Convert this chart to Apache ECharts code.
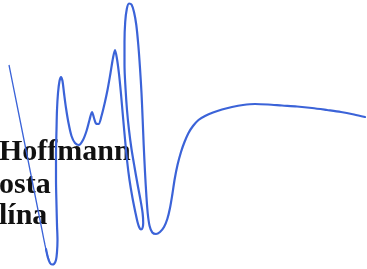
<!DOCTYPE html>
<html><head><meta charset="utf-8">
<script src="https://cdn.jsdelivr.net/npm/echarts@6/dist/echarts.min.js"></script>
<style>html,body{margin:0;padding:0;background:#fff}#c{width:367px;height:269px}</style>
</head><body><div id="c"></div>
<script>
// signature stroke points [x, y]
var strokeThin = [[9,65],[16,100],[24,140],[31,175],[37,205],[42,230],[45,245],[47,254],[49,260]];
var strokeMain = [[46,249],[48,258],[50,263],[52,264.5],[54,264],[56,260],[57,252],[57.5,240],[57,225],[56.5,205],[56,180],[56,155],[56.5,130],[57,110],[58,93],[59.5,81],[61,77],[62.5,81],[64,93],[66,108],[68.5,123],[71.5,136],[75,143],[79,145],[83,140],[86.5,131],[89.5,120],[92,112],[94,118],[96,123.5],[98.5,124],[101.5,116],[104.5,104],[107.5,90],[110.5,73],[113,58],[115,50],[117,59],[119,74],[121,94],[123,117],[125,139],[127,160],[129.5,180],[132.5,198],[135.5,213],[137.5,222],[139.3,227.5],[141,229.5],[142.5,228],[143.2,223],[142.6,213],[140.5,200],[137.5,184],[134.5,167],[131.5,149],[129,130],[127,110],[125.5,88],[124.5,65],[124.5,42],[125.2,22],[126.8,9],[129,3.5],[131.5,4.5],[134,12],[136.3,25],[138.3,45],[140,68],[141.5,93],[142.6,118],[143.7,145],[145,172],[146.4,196],[147.8,214],[149.6,226],[152.3,232.5],[156,234],[160,232],[164,227],[167.3,219],[170,208],[172.4,194],[174.7,179],[177.5,165],[181,152],[184.5,142],[188.5,133],[193,126],[198.5,120],[205,116],[213,112.5],[222,109.5],[232,107],[243,105],[255,104],[268,104.5],[282,105.5],[297,106.5],[312,108],[327,110],[341,112],[354,114.5],[365,117]];
var textLines = ['Hoffmann', 'osta', 'lína'];
var textBaselines = [163, 196, 227];

var chart = echarts.init(document.getElementById('c'));
var blue = '#3b63d8';
chart.setOption({
  animation: false,
  grid: {left: 0, right: 0, top: 0, bottom: 0},
  xAxis: {type: 'value', min: 0, max: 367, show: false},
  yAxis: {type: 'value', min: 0, max: 269, inverse: true, show: false},
  graphic: textLines.map(function (t, i) {
    return {
      type: 'text', left: -1, top: textBaselines[i] - 26, z: 0,
      style: {text: t, font: 'bold 30px "Liberation Serif"', fill: '#111'}
    };
  }),
  series: [
    {type: 'line', name: 'thin', data: strokeThin, smooth: 0.3, symbol: 'none', z: 5,
     lineStyle: {color: blue, width: 1.3}},
    {type: 'line', name: 'main', data: strokeMain, smooth: 0.3, symbol: 'none', z: 5,
     lineStyle: {color: blue, width: 2.2, cap: 'round', join: 'round'}}
  ]
});
</script></body></html>
